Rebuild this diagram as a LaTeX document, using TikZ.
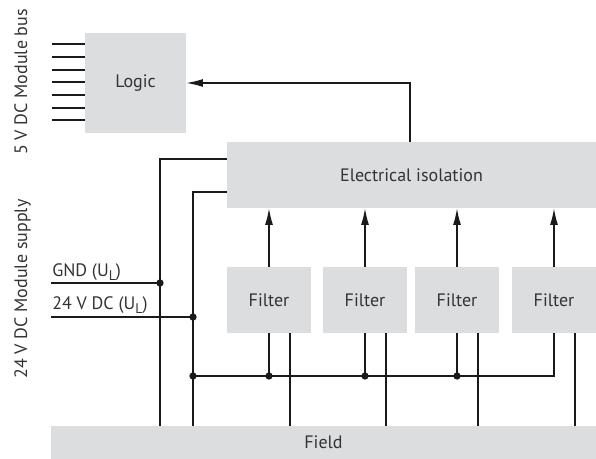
\documentclass[tikz,border=0pt]{standalone}
\usepackage{fontspec}
\setmainfont{PT Sans}
\usetikzlibrary{arrows.meta}
\definecolor{boxgray}{HTML}{DCDDDF}
\definecolor{txt}{HTML}{333333}
\definecolor{ln}{HTML}{1A1A1A}
\begin{document}
\begin{tikzpicture}[x=0.75pt,y=-0.75pt,
  box/.style={fill=boxgray, draw=none, inner sep=0pt, text=txt, font=\fontsize{13.5}{16}\selectfont},
  wire/.style={draw=ln, line width=1.1pt},
  arr/.style={wire, -{Latex[length=12.5pt,width=6pt]}},
  dot/.style={circle, fill=ln, inner sep=0pt, minimum size=5.5pt},
  lbl/.style={text=txt, font=\fontsize{13.5}{16}\selectfont, inner sep=0pt}]
\useasboundingbox (0,0) rectangle (596,459);
% boxes
\node[box, minimum width=75.75pt, minimum height=75pt] (logic) at (135.5,83) {Logic};
\node[box, minimum width=276.75pt, minimum height=49.5pt] (iso) at (411.5,175) {Electrical isolation};
\foreach \n/\c in {1/269,2/365,3/457,4/554}
  \node[box, minimum width=63pt, minimum height=49.5pt] (f\n) at (\c,300) {Filter};
\node[box, minimum width=408.75pt, minimum height=24.75pt] (field) at (323.5,442.5) {Field};
% module bus lines
\foreach \y [count=\i] in {44,57,70,82,95,108,120} {
  \coordinate (b\i) at (52,\y);
  \draw[wire] (b\i) -- (b\i -| logic.west);
}
% isolation -> logic
\coordinate (c1) at (410,83);
\draw[arr] (c1 |- iso.north) -- (c1) -- (logic.east);
% supply rails
\coordinate (gnd) at (51,283);
\coordinate (v24) at (51,317);
\coordinate (r1) at (160,159);
\coordinate (r2) at (193,192);
\node[dot] (d1) at (160,283) {};
\node[dot] (d2) at (193,317) {};
\draw[wire] (gnd) -- (d1.center);
\draw[wire] (v24) -- (d2.center);
\draw[wire] (r1 |- field.north) -- (r1) -- (r1 -| iso.west);
\draw[wire] (r2 |- field.north) -- (r2) -- (r2 -| iso.west);
% common line
\node[dot] (d3) at (193,376) {};
\draw[wire] (d3.center) -- (d3 -| f4.south) -- (f4.south);
\foreach \i in {1,2,3} {
  \node[dot] (j\i) at (f\i.south |- d3) {};
  \draw[wire] (f\i.south) -- (j\i.center);
}
\foreach \i in {1,2,3,4} {
  \draw[wire] ([xshift=15.75pt]f\i.south) -- ([xshift=15.75pt]f\i.south |- field.north);
  \draw[arr] (f\i.north) -- (f\i.north |- iso.south);
}
% labels
\node[lbl, anchor=base west] (gndl) at (52,277) {GND (U\raisebox{-3pt}{\fontsize{10.5}{10}\selectfont L})};
\node[lbl, anchor=base west] (v24l) at (52,310) {24 V DC (U\raisebox{-3pt}{\fontsize{10.5}{10}\selectfont L})};
\node[lbl, rotate=90, anchor=base] (busl) at (27,82) {5 V DC Module bus};
\node[lbl, rotate=90, anchor=base] (supl) at (27,289) {24 V DC Module supply};
\end{tikzpicture}
\end{document}
